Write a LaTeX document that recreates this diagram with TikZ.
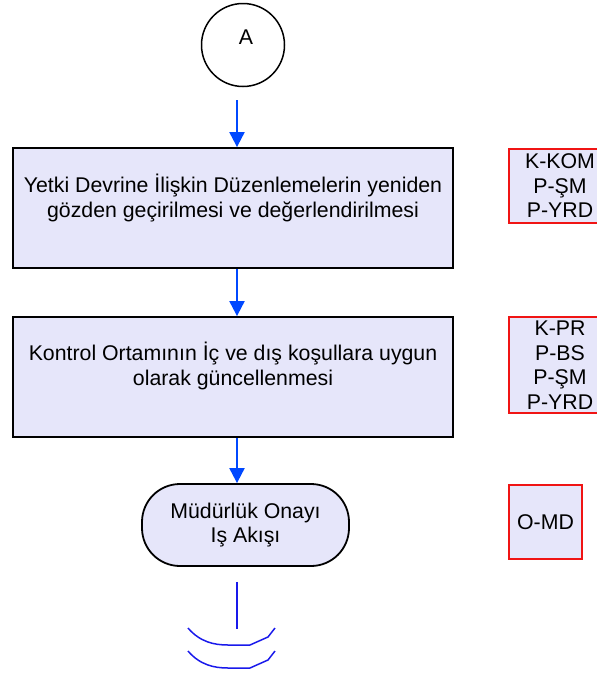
\documentclass[tikz,border=0pt]{standalone}
\usepackage{fontspec}
\setmainfont{Liberation Sans}
\usetikzlibrary{arrows.meta}
\definecolor{boxfill}{RGB}{230,230,250}
\definecolor{flowblue}{RGB}{0,72,255}
\definecolor{linkblue}{RGB}{25,25,235}
\definecolor{rolered}{RGB}{240,20,20}

\begin{document}
\begin{tikzpicture}[x=1pt,y=-1pt,
  font=\fontsize{21.3pt}{24.5pt}\selectfont,
  proc/.style={rectangle,draw,line width=1.8pt,fill=boxfill,minimum width=440pt,minimum height=120pt},
  term/.style={rectangle,rounded corners=38pt,draw,line width=1.8pt,fill=boxfill,align=center,minimum width=207pt,minimum height=82pt},
  role/.style={rectangle,draw=rolered,line width=1.8pt,fill=boxfill,inner sep=0pt,align=center,minimum height=74pt},
  flow/.style={draw=flowblue,line width=2pt,-{Triangle[length=15pt,width=15pt]}}]
\useasboundingbox (0,0) rectangle (597,675);

\node [circle,draw,line width=1.5pt,minimum size=83pt,label={[xshift=3pt,yshift=8pt]center:A}] (conA) at (243,45) {};

\node [proc] (b1) at (233,208) {};
\node [align=center] (t1) at ([yshift=10pt]b1.center) {Yetki Devrine İlişkin Düzenlemelerin yeniden\\gözden geçirilmesi ve değerlendirilmesi};
\node [proc] (b2) at (233,377) {};
\node [align=center] (t2) at ([yshift=11pt]b2.center) {Kontrol Ortamının İç ve dış koşullara uygun\\olarak güncellenmesi};
\node [term] (onay) at (245.5,525) {Müdürlük Onayı\\Iş Akışı};

% roles
\node [role,minimum width=102pt] (r1) at (560,186) {K-KOM\\P-ŞM\\P-YRD};
\node [role,minimum width=102pt,minimum height=96pt] (r2) at (560,365) {K-PR\\P-BS\\P-ŞM\\P-YRD};
\node [role,minimum width=73pt] (r3) at (545.5,522) {O-MD};

\coordinate (a1) at (237,100);
\coordinate (c1) at (237,629);
\draw [flow] (a1) -- (a1 |- b1.north);
\draw [flow] (b1.south -| a1) -- (b2.north -| a1);
\draw [flow] (b2.south -| a1) -- (onay.north -| a1);
\draw [linkblue,line width=1.5pt,shorten <=15pt] (onay.south -| a1) -- (c1);
\foreach \dy in {0,23}
  \draw [linkblue,line width=1.5pt] (188,628+\dy) .. controls (200,642+\dy) and (214,645+\dy) .. (228,645+\dy) -- (250,645+\dy) -- (268,637+\dy) -- (275,628+\dy);
\end{tikzpicture}
\end{document}
